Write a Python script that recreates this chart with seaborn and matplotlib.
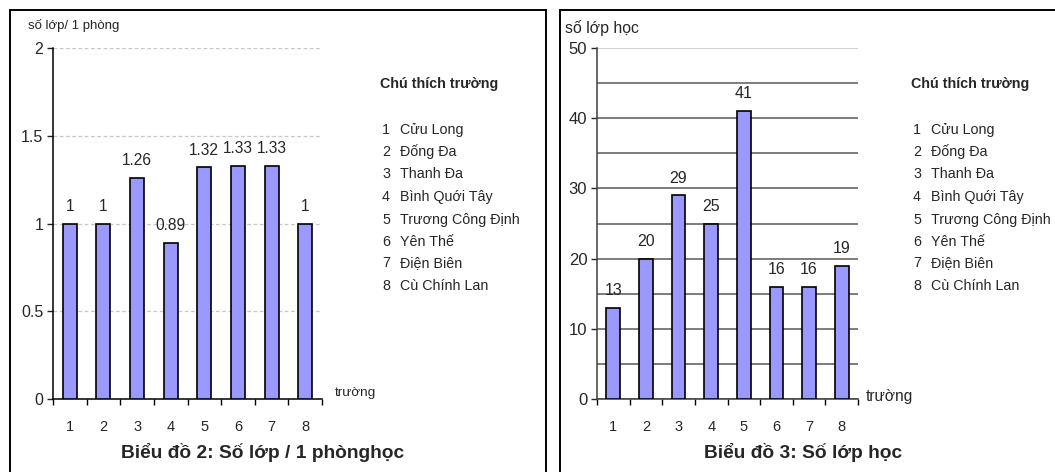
import numpy as np
import pandas as pd
import seaborn as sns
import matplotlib.pyplot as plt
from matplotlib.patches import Rectangle

# Datos
truong = ['1', '2', '3', '4', '5', '6', '7', '8']
ten_truong = ['Cửu Long', 'Đống Đa', 'Thanh Đa', 'Bình Quới Tây',
              'Trương Công Định', 'Yên Thế', 'Điện Biên', 'Cù Chính Lan']
lop_tren_phong = [1, 1, 1.26, 0.89, 1.32, 1.33, 1.33, 1]
so_lop_hoc = [13, 20, 29, 25, 41, 16, 16, 19]

sns.set_style('white')
plt.rcParams['font.family'] = ['Liberation Sans', 'DejaVu Sans']

fig = plt.figure(figsize=(10.55, 4.72), dpi=100)
W, H = 1055, 472

# Marcos de los paneles
fig.patches.append(Rectangle((10 / W, -0.1), 536 / W, 1.1 - 10 / H, transform=fig.transFigure,
                             fill=False, edgecolor='black', linewidth=1.4))
fig.patches.append(Rectangle((560 / W, -0.1), 0.6, 1.1 - 10 / H, transform=fig.transFigure,
                             fill=False, edgecolor='black', linewidth=1.4))

ax1 = fig.add_axes([53 / W, 1 - 399 / H, 269 / W, 351 / H])
ax2 = fig.add_axes([597 / W, 1 - 399 / H, 261 / W, 351 / H])


def dibujar(ax, valores, titulo, x_titulo, fmt, x0_panel, fs_valor, fs_ytick):
    df = pd.DataFrame({'truong': truong, 'valor': valores})
    sns.barplot(x='truong', y='valor', data=df, ax=ax, color='#9999ff', saturation=1,
                width=0.42, edgecolor='black', linewidth=1.2, zorder=3)
    ax.set_xlim(-0.5, 7.5)
    ax.set_xlabel('')
    ax.set_ylabel('')
    for b, v in zip(ax.patches, valores):
        ax.annotate(fmt(v), (b.get_x() + b.get_width() / 2, v), xytext=(0, 7),
                    textcoords='offset points', ha='center', va='bottom', fontsize=fs_valor)
    # Ticks del eje x entre categorias
    ax.set_xticks(np.arange(-0.5, 8, 1))
    ax.set_xticklabels([])
    ax.set_xticks(range(8), truong, minor=True)
    ax.tick_params(axis='x', which='major', direction='out', length=4, width=1, color='black', bottom=True)
    ax.tick_params(axis='x', which='minor', length=0, pad=15, labelsize=10.5)
    ax.tick_params(axis='y', direction='out', length=4, width=1, left=True, pad=3, labelsize=fs_ytick)
    for s in ['top', 'right']:
        ax.spines[s].set_visible(False)
    for s in ['left', 'bottom']:
        ax.spines[s].set_color('black')
        ax.spines[s].set_linewidth(1.1)
    # Titulo
    fig.text(x_titulo / W, 1 - 452 / H, titulo, ha='center', va='center',
             fontsize=13.8, fontweight='bold')
    # Leyenda de texto
    lx = x0_panel + 370
    fig.text(lx / W, 1 - 84 / H, 'Chú thích trường', fontsize=10.3, fontweight='bold', va='center')
    filas = [130, 152, 174, 197, 220, 242, 263, 286]
    for t, nombre, y in zip(truong, ten_truong, filas):
        fig.text((lx + 2) / W, 1 - y / H, t, fontsize=10.3, va='center')
        fig.text((lx + 20) / W, 1 - y / H, nombre, fontsize=10.3, va='center')
    return ax


dibujar(ax1, lop_tren_phong, 'Biểu đồ 2: Số lớp / 1 phònghọc', 263,
        lambda v: f'{v:g}', 10, 11.2, 11.5)
ax1.set_ylim(0, 2)
ax1.set_yticks([0, 0.5, 1, 1.5, 2], ['0', '0.5', '1', '1.5', '2'])
ax1.yaxis.grid(True, linestyle=(0, (3, 2)), color='#c8c8c8', linewidth=0.9, zorder=0)
ax1.set_axisbelow(True)
fig.text(28 / W, 1 - 25 / H, 'số lớp/ 1 phòng', fontsize=9.5, va='center')
fig.text(335 / W, 1 - 393 / H, 'trường', fontsize=9.7, va='center')

dibujar(ax2, so_lop_hoc, 'Biểu đồ 3: Số lớp học', 803,
        lambda v: f'{v:d}', 541, 11.5, 12)
ax2.set_ylim(0, 50)
ax2.set_yticks([0, 10, 20, 30, 40, 50])
ax2.set_yticks(np.arange(5, 50, 10), minor=True)
ax2.tick_params(axis='y', which='minor', length=0)
ax2.yaxis.grid(True, which='both', linestyle='-', color='#666666', linewidth=1.2, zorder=0)
ax2.get_ygridlines()[-1].set_color('#c8c8c8')
ax2.set_axisbelow(True)
ax2.spines['left'].set_color('#404040')
ax2.spines['bottom'].set_color('#404040')
fig.text(565 / W, 1 - 28 / H, 'số lớp học', fontsize=11.4, va='center')
fig.text(866 / W, 1 - 396 / H, 'trường', fontsize=11.2, va='center')

plt.savefig('out.png', dpi=100)
